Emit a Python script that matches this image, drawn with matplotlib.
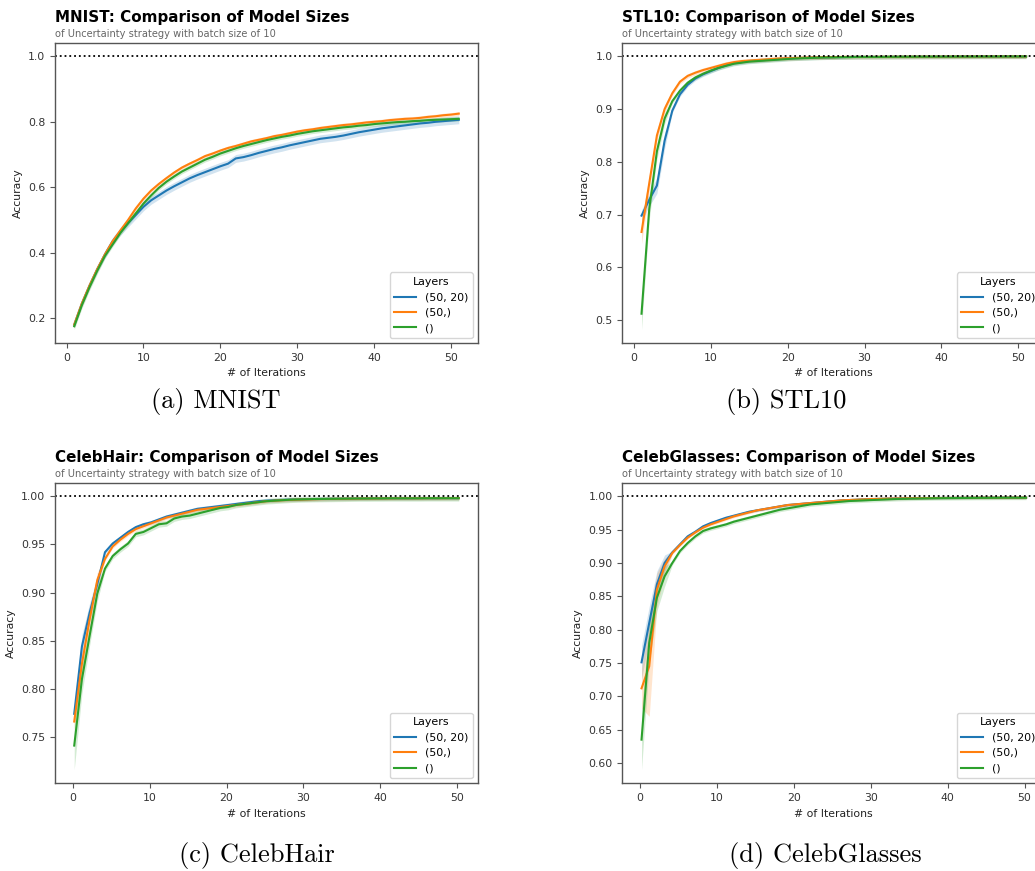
import numpy as np
import matplotlib
matplotlib.use("Agg")
import matplotlib.pyplot as plt
from matplotlib.ticker import MultipleLocator

# ---------------------------------------------------------
# DATA
# ---------------------------------------------------------

layers = ["(50, 20)", "(50,)", "()"]
colors = ["#1f77b4", "#ff7f0e", "#2ca02c"]

iters_small = np.arange(1, 52)          # MNIST / STL10
iters_celeb = np.arange(0, 51) + 0.2    # CelebHair / CelebGlasses

mnist_5020 = [0.180, 0.245, 0.300, 0.350, 0.395, 0.435, 0.465, 0.490, 0.515, 0.540,
              0.560, 0.575, 0.590, 0.603, 0.615, 0.627, 0.637, 0.646, 0.655, 0.664,
              0.672, 0.688, 0.692, 0.698, 0.705, 0.711, 0.717, 0.722, 0.728, 0.733,
              0.738, 0.743, 0.748, 0.751, 0.754, 0.758, 0.763, 0.768, 0.772, 0.776,
              0.780, 0.783, 0.786, 0.789, 0.792, 0.795, 0.797, 0.800, 0.802, 0.804,
              0.806]
mnist_50 = [0.180, 0.245, 0.300, 0.350, 0.395, 0.435, 0.468, 0.500, 0.535, 0.565,
            0.590, 0.610, 0.628, 0.645, 0.660, 0.672, 0.683, 0.695, 0.703, 0.712,
            0.720, 0.726, 0.733, 0.740, 0.745, 0.750, 0.756, 0.760, 0.765, 0.770,
            0.774, 0.777, 0.781, 0.784, 0.787, 0.790, 0.792, 0.795, 0.798, 0.800,
            0.802, 0.805, 0.807, 0.809, 0.810, 0.812, 0.815, 0.817, 0.820, 0.822,
            0.825]
mnist_0 = [0.175, 0.240, 0.295, 0.345, 0.390, 0.425, 0.460, 0.490, 0.520, 0.550,
           0.575, 0.598, 0.617, 0.633, 0.648, 0.660, 0.672, 0.684, 0.693, 0.703,
           0.711, 0.719, 0.726, 0.732, 0.738, 0.744, 0.749, 0.754, 0.758, 0.763,
           0.767, 0.771, 0.774, 0.777, 0.780, 0.783, 0.785, 0.788, 0.790, 0.793,
           0.795, 0.797, 0.799, 0.800, 0.802, 0.803, 0.805, 0.806, 0.807, 0.808,
           0.809]

stl_5020 = [0.698, 0.728, 0.755, 0.840, 0.897, 0.928, 0.946, 0.958, 0.966, 0.972,
            0.978, 0.983, 0.987, 0.989, 0.991, 0.992, 0.993, 0.994, 0.995, 0.996,
            0.9965, 0.997, 0.9975, 0.998, 0.998, 0.9985, 0.9985, 0.999, 0.999, 0.999,
            0.999, 0.999, 0.9992, 0.9992, 0.9993, 0.9993, 0.9994, 0.9994, 0.9995, 0.9995,
            0.9995, 0.9996, 0.9996, 0.9996, 0.9997, 0.9997, 0.9997, 0.9998, 0.9998, 0.9998,
            0.9998]
stl_50 = [0.667, 0.759, 0.850, 0.900, 0.930, 0.952, 0.963, 0.969, 0.974, 0.978,
          0.982, 0.986, 0.989, 0.991, 0.992, 0.993, 0.994, 0.995, 0.996, 0.9965,
          0.997, 0.9975, 0.998, 0.998, 0.9985, 0.9985, 0.999, 0.999, 0.999, 0.999,
          0.999, 0.9992, 0.9992, 0.9993, 0.9993, 0.9994, 0.9994, 0.9995, 0.9995, 0.9995,
          0.9996, 0.9996, 0.9996, 0.9997, 0.9997, 0.9997, 0.9998, 0.9998, 0.9998, 0.9998,
          0.9998]
stl_0 = [0.512, 0.710, 0.820, 0.882, 0.915, 0.935, 0.950, 0.960, 0.967, 0.973,
         0.978, 0.982, 0.986, 0.988, 0.990, 0.991, 0.992, 0.993, 0.994, 0.995,
         0.996, 0.9965, 0.997, 0.9975, 0.998, 0.998, 0.9985, 0.9985, 0.999, 0.999,
         0.999, 0.999, 0.9992, 0.9992, 0.9993, 0.9993, 0.9994, 0.9994, 0.9995, 0.9995,
         0.9995, 0.9996, 0.9996, 0.9996, 0.9997, 0.9997, 0.9997, 0.9998, 0.9998, 0.9998,
         0.9998]

hair_5020 = [0.774, 0.844, 0.879, 0.909, 0.942, 0.951, 0.957, 0.963, 0.968, 0.971,
             0.973, 0.976, 0.979, 0.981, 0.983, 0.985, 0.987, 0.988, 0.989, 0.990,
             0.991, 0.992, 0.993, 0.994, 0.995, 0.9955, 0.996, 0.9963, 0.9966, 0.9968,
             0.997, 0.9972, 0.9973, 0.9974, 0.9975, 0.9976, 0.9977, 0.9978, 0.9978, 0.9979,
             0.9979, 0.998, 0.998, 0.998, 0.998, 0.9981, 0.9981, 0.9981, 0.9982, 0.9982,
             0.9982]
hair_50 = [0.766, 0.826, 0.872, 0.913, 0.935, 0.948, 0.955, 0.961, 0.966, 0.969,
           0.972, 0.975, 0.978, 0.980, 0.982, 0.984, 0.986, 0.987, 0.988, 0.989,
           0.990, 0.991, 0.992, 0.993, 0.994, 0.995, 0.9955, 0.996, 0.9963, 0.9966,
           0.9968, 0.997, 0.9972, 0.9973, 0.9974, 0.9975, 0.9976, 0.9977, 0.9978, 0.9978,
           0.9979, 0.9979, 0.998, 0.998, 0.998, 0.998, 0.9981, 0.9981, 0.9981, 0.9982,
           0.9982]
hair_0 = [0.741, 0.810, 0.855, 0.899, 0.925, 0.938, 0.945, 0.951, 0.961, 0.963,
          0.967, 0.971, 0.972, 0.977, 0.979, 0.980, 0.982, 0.984, 0.986, 0.988,
          0.989, 0.991, 0.992, 0.993, 0.994, 0.995, 0.9955, 0.996, 0.9965, 0.9968,
          0.997, 0.9972, 0.9973, 0.9974, 0.9975, 0.9976, 0.9977, 0.9978, 0.9978, 0.9979,
          0.9979, 0.998, 0.998, 0.998, 0.998, 0.998, 0.9981, 0.9981, 0.9981, 0.9981,
          0.9981]

glass_5020 = [0.751, 0.810, 0.868, 0.900, 0.916, 0.928, 0.940, 0.947, 0.955, 0.960,
              0.964, 0.968, 0.971, 0.974, 0.977, 0.979, 0.981, 0.983, 0.985, 0.987,
              0.988, 0.989, 0.990, 0.991, 0.992, 0.993, 0.994, 0.9945, 0.995, 0.9955,
              0.996, 0.9963, 0.9966, 0.9968, 0.997, 0.9972, 0.9973, 0.9974, 0.9975, 0.9976,
              0.9977, 0.9978, 0.9978, 0.9979, 0.998, 0.998, 0.998, 0.998, 0.9981, 0.9981,
              0.9981]
glass_50 = [0.712, 0.745, 0.860, 0.895, 0.915, 0.927, 0.938, 0.946, 0.953, 0.958,
            0.962, 0.966, 0.970, 0.973, 0.976, 0.979, 0.981, 0.983, 0.985, 0.987,
            0.988, 0.989, 0.990, 0.991, 0.992, 0.993, 0.994, 0.9945, 0.995, 0.9955,
            0.996, 0.9963, 0.9966, 0.9968, 0.997, 0.9972, 0.9973, 0.9974, 0.9975, 0.9976,
            0.9977, 0.9978, 0.9978, 0.9979, 0.998, 0.998, 0.998, 0.998, 0.9981, 0.9981,
            0.9981]
glass_0 = [0.635, 0.780, 0.848, 0.880, 0.900, 0.918, 0.930, 0.940, 0.948, 0.952,
           0.955, 0.958, 0.962, 0.965, 0.968, 0.971, 0.974, 0.977, 0.980, 0.982,
           0.984, 0.986, 0.988, 0.989, 0.990, 0.991, 0.992, 0.993, 0.9935, 0.994,
           0.9945, 0.995, 0.9955, 0.996, 0.9963, 0.9966, 0.9968, 0.997, 0.9972, 0.9973,
           0.9974, 0.9975, 0.9976, 0.9977, 0.9978, 0.9978, 0.9979, 0.998, 0.998, 0.998,
           0.998]

# confidence band half-widths: first few points, then a flat tail value
mnist_ci_head = [[0.010, 0.010, 0.010, 0.010], [0.008, 0.008, 0.008, 0.008], [0.010, 0.010, 0.010, 0.010]]
mnist_ci_tail = [0.012, 0.006, 0.007]
stl_ci_head = [[0.010, 0.012, 0.015, 0.015], [0.022, 0.015, 0.010, 0.008], [0.030, 0.020, 0.015, 0.010]]
stl_ci_tail = [0.004, 0.004, 0.004]
hair_ci_head = [[0.008, 0.012, 0.010, 0.008], [0.008, 0.012, 0.010, 0.008], [0.025, 0.015, 0.010, 0.008]]
hair_ci_tail = [0.002, 0.002, 0.003]
glass_ci_head = [[0.025, 0.025, 0.020, 0.012], [0.030, 0.075, 0.025, 0.012], [0.045, 0.030, 0.020, 0.015]]
glass_ci_tail = [0.002, 0.002, 0.003]

panels = [
    ("MNIST", iters_small, [mnist_5020, mnist_50, mnist_0], mnist_ci_head, mnist_ci_tail),
    ("STL10", iters_small, [stl_5020, stl_50, stl_0], stl_ci_head, stl_ci_tail),
    ("CelebHair", iters_celeb, [hair_5020, hair_50, hair_0], hair_ci_head, hair_ci_tail),
    ("CelebGlasses", iters_celeb, [glass_5020, glass_50, glass_0], glass_ci_head, glass_ci_tail),
]
captions = ["(a) MNIST", "(b) STL10", "(c) CelebHair", "(d) CelebGlasses"]
y_steps = [0.2, 0.1, 0.05, 0.05]

# ---------------------------------------------------------
# LAYOUT (pixel boxes of each axes: left, top, width, height)
# ---------------------------------------------------------

W, H = 1035, 871
boxes = [(55, 42.7, 423, 300.5), (622.3, 42.7, 423, 300.5),
         (55, 482.7, 423, 300.6), (622.3, 482.7, 423, 300.6)]
caption_pos = [(216, 401), (786, 401), (257, 855), (825, 855)]

fig = plt.figure(figsize=(W / 100, H / 100), dpi=100)

spine_col = "#555555"

for (name, x, series, ci_head, ci_tail), (l, t, w, h), step in zip(panels, boxes, y_steps):
    ax = fig.add_axes([l / W, 1 - (t + h) / H, w / W, h / H])
    for vals, col, lab, head, tail in zip(series, colors, layers, ci_head, ci_tail):
        vals = np.array(vals)
        ci = np.array(head + [tail] * (len(vals) - len(head)))
        ax.fill_between(x, vals - ci, np.minimum(vals + ci, 1.0),
                        color=col, alpha=0.2, linewidth=0)
        ax.plot(x, vals, color=col, linewidth=1.5, label=lab)
    ax.axhline(1.0, color="black", linestyle=":", linewidth=1.3)
    ax.yaxis.set_major_locator(MultipleLocator(step))

    ax.set_xlabel("# of Iterations", fontsize=7.8, color="#222222")
    ax.set_ylabel("Accuracy", fontsize=7.8, color="#222222")
    ax.tick_params(labelsize=7.8, colors="#333333", color=spine_col)
    for sp in ax.spines.values():
        sp.set_color(spine_col)
        sp.set_linewidth(1.0)

    leg = ax.legend(title="Layers", loc="lower right", fontsize=7.9,
                    title_fontsize=7.9)
    leg.get_frame().set_edgecolor("#cccccc")

    ax.text(0, 1.0 + 25.5 / h, f"{name}: Comparison of Model Sizes",
            transform=ax.transAxes, ha="left", va="center",
            fontsize=10.9, fontweight="bold")
    ax.text(0, 1.0 + 8.5 / h, "of Uncertainty strategy with batch size of 10",
            transform=ax.transAxes, ha="left", va="center",
            fontsize=7.1, color="#666666")

for cap, (cx, cy) in zip(captions, caption_pos):
    fig.text(cx / W, 1 - cy / H, cap, ha="center", va="center",
             fontsize=19, family="cmr10")

plt.savefig("out.png", dpi=100)
plt.close()
